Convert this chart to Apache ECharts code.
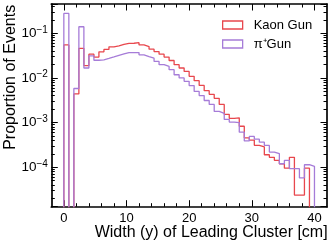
<!DOCTYPE html>
<html>
<head>
<meta charset="utf-8">
<script src="https://cdn.jsdelivr.net/npm/echarts@6.0.0/dist/echarts.min.js"></script>
<style>
html,body{margin:0;padding:0;background:#fff;}
#chart{width:332px;height:246px;}
</style>
</head>
<body>
<div id="chart"></div>
<script>
// ---- data ----
const binStart = 0;
const binWidth = 0.8;
const seriesNames = ['Kaon Gun', 'π⁺Gun'];
const kaonValues = [
  0.055, 0, 0.0044, 0.046, 0.0188, 0.034, 0.0293, 0.0384, 0.0436, 0.0499,
  0.0522, 0.0564, 0.0593, 0.0599, 0.0618, 0.0550, 0.0504, 0.0441, 0.0390, 0.0341,
  0.0293, 0.0246, 0.0198, 0.0167, 0.0140, 0.0109, 0.0087, 0.0068, 0.0052, 0.0043,
  0.0035, 0.00255, 0.00153, 0.00125, 0.00128, 0.00083, 0.000454, 0.000406, 0.00031, 0.000287,
  0.000191, 0.000167, 0.000143, 0.00012, 0.0000956, 0.000167, 0.0000239, 0.0000239, 0.0000956, 0
];
const pionValues = [
  0.278, 0, 0.0058, 0.140, 0.0167, 0.0313, 0.0249, 0.0255, 0.0275, 0.0297,
  0.0321, 0.0347, 0.0371, 0.0371, 0.0371, 0.0330, 0.0302, 0.0278, 0.0234, 0.0198,
  0.0181, 0.0153, 0.0118, 0.0100, 0.0084, 0.00675, 0.0050, 0.00404, 0.00313, 0.00255,
  0.00178, 0.00161, 0.00118, 0.00103, 0.00100, 0.00061, 0.00039, 0.00049, 0.000426, 0.000365,
  0.000308, 0.000219, 0.000201, 0.00012, 0.000143, 0.000093, 0.000093, 0.0000578, 0.000114, 0.000105
];
const xTickLabels = [0, 10, 20, 30, 40];
const xMinorTicks = [2, 4, 6, 8, 12, 14, 16, 18, 22, 24, 26, 28, 32, 34, 36, 38];
const yTickValues = [1e-4, 1e-3, 1e-2, 1e-1];
const xMin = -2, xMax = 42;
const yMin = 1.31e-5, yMax = 0.453;

// ---- build ----
const colors = ['#e8474d', '#a67cd8'];
const FLOOR = 1e-8;
function stepData(vals) {
  const pts = [[binStart, FLOOR]];
  vals.forEach((v, i) => pts.push([binStart + i * binWidth, v > 0 ? v : FLOOR]));
  const end = binStart + vals.length * binWidth;
  const last = vals[vals.length - 1];
  pts.push([end, last > 0 ? last : FLOOR]);
  pts.push([end, FLOOR]);
  return pts;
}
const yMinorLog = [];
for (let n = -5; n <= -1; n++) {
  for (let k = 2; k <= 9; k++) {
    const v = Math.log10(k) + n;
    if (v > Math.log10(yMin) && v < Math.log10(yMax)) yMinorLog.push(v);
  }
}
const font = 'Liberation Sans, Arial, Helvetica, sans-serif';
const black = '#000';
const lineW = 1.3;
const frameW = 1.7;

const chart = echarts.init(document.getElementById('chart'), null, {renderer: 'canvas'});
const hiddenLabel = {show: false};
const option = {
  animation: false,
  backgroundColor: '#fff',
  textStyle: {fontFamily: font},
  grid: {left: 51.3, right: 5, top: 4, bottom: 39.3, containLabel: false, outerBoundsMode: 'none'},
  legend: {
    orient: 'vertical',
    left: 222,
    top: 18,
    padding: 0,
    itemWidth: 20,
    itemHeight: 8,
    itemGap: 5,
    textStyle: {fontSize: 13, fontFamily: font, color: '#000', lineHeight: 14, padding: [0, 0, 0, 6]},
    data: seriesNames.map((n, i) => ({
      name: n, icon: 'rect',
      itemStyle: {color: 'rgba(255,255,255,0)', borderColor: colors[i], borderWidth: lineW}
    }))
  },
  xAxis: [
    {
      type: 'value', min: xMin, max: xMax, position: 'bottom',
      name: 'Width (y) of Leading Cluster [cm]',
      nameLocation: 'middle', nameGap: 18, nameMoveOverlap: false,
      nameTextStyle: {fontSize: 16, fontFamily: font, color: '#000', padding: [0, 0, 0, 44]},
      axisLine: {show: true, onZero: false, lineStyle: {color: black, width: frameW}},
      axisTick: {show: true, inside: true, length: 6.5, customValues: xTickLabels, lineStyle: {color: black, width: 1}},
      axisLabel: {show: true, customValues: xTickLabels, margin: 5, fontSize: 13, fontFamily: font, color: '#000'},
      splitLine: {show: false}
    },
    {
      type: 'value', min: xMin, max: xMax, position: 'bottom', offset: 0,
      axisLine: {show: false, onZero: false},
      axisTick: {show: true, inside: true, length: 3.5, customValues: xMinorTicks, lineStyle: {color: black, width: 1}},
      axisLabel: hiddenLabel, splitLine: {show: false}
    },
    {
      type: 'value', min: xMin, max: xMax, position: 'top', offset: 0,
      axisLine: {show: true, onZero: false, lineStyle: {color: black, width: frameW}},
      axisTick: {show: true, inside: true, length: 6.5, customValues: xTickLabels, lineStyle: {color: black, width: 1}},
      axisLabel: hiddenLabel, splitLine: {show: false}
    },
    {
      type: 'value', min: xMin, max: xMax, position: 'top', offset: 0,
      axisLine: {show: false, onZero: false},
      axisTick: {show: true, inside: true, length: 3.5, customValues: xMinorTicks, lineStyle: {color: black, width: 1}},
      axisLabel: hiddenLabel, splitLine: {show: false}
    }
  ],
  yAxis: [
    {
      type: 'log', logBase: 10, min: yMin, max: yMax, position: 'left', offset: 0,
      name: 'Proportion of Events',
      nameLocation: 'middle', nameGap: 33, nameMoveOverlap: false,
      nameTextStyle: {fontSize: 16, fontFamily: font, color: '#000', padding: [0, 0, 0, 56]},
      axisLine: {show: true, onZero: false, lineStyle: {color: black, width: frameW}},
      axisTick: {show: true, inside: true, length: 6.5, lineStyle: {color: black, width: 1}},
      axisLabel: {
        show: true, margin: 3.5, fontFamily: font, color: '#000',
        formatter: function (v) {
          const e = Math.log10(v);
          if (Math.abs(e - Math.round(e)) > 1e-6) return '';
          const n = Math.round(e);
          return '{b|10}{e|' + (n < 0 ? '\u2212' : '') + Math.abs(n) + '}';
        },
        rich: {
          b: {fontSize: 13.5, fontFamily: font, color: '#000', lineHeight: 17},
          e: {fontSize: 10, fontFamily: font, color: '#000', lineHeight: 7, verticalAlign: 'top'}
        }
      },
      splitLine: {show: false}
    },
    {
      type: 'log', logBase: 10, min: yMin, max: yMax, position: 'right', offset: 0,
      axisLine: {show: true, onZero: false, lineStyle: {color: black, width: frameW}},
      axisTick: {show: true, inside: true, length: 6.5, lineStyle: {color: black, width: 1}},
      axisLabel: hiddenLabel, splitLine: {show: false}
    },
    {
      type: 'value', min: Math.log10(yMin), max: Math.log10(yMax), position: 'left', offset: 0,
      axisLine: {show: false, onZero: false},
      axisTick: {show: true, inside: true, length: 3.5, customValues: yMinorLog, lineStyle: {color: black, width: 1}},
      axisLabel: hiddenLabel, splitLine: {show: false}
    },
    {
      type: 'value', min: Math.log10(yMin), max: Math.log10(yMax), position: 'right', offset: 0,
      axisLine: {show: false, onZero: false},
      axisTick: {show: true, inside: true, length: 3.5, customValues: yMinorLog, lineStyle: {color: black, width: 1}},
      axisLabel: hiddenLabel, splitLine: {show: false}
    }
  ],
  series: [
    {
      name: seriesNames[0], type: 'line', step: 'end', xAxisIndex: 0, yAxisIndex: 0,
      data: stepData(kaonValues), showSymbol: false, symbol: 'none', clip: true,
      color: colors[0], lineStyle: {color: colors[0], width: lineW}, z: 3
    },
    {
      name: seriesNames[1], type: 'line', step: 'end', xAxisIndex: 0, yAxisIndex: 0,
      data: stepData(pionValues), showSymbol: false, symbol: 'none', clip: true,
      color: colors[1], lineStyle: {color: colors[1], width: lineW}, z: 4
    }
  ]
};
chart.setOption(option);
</script>
</body>
</html>
